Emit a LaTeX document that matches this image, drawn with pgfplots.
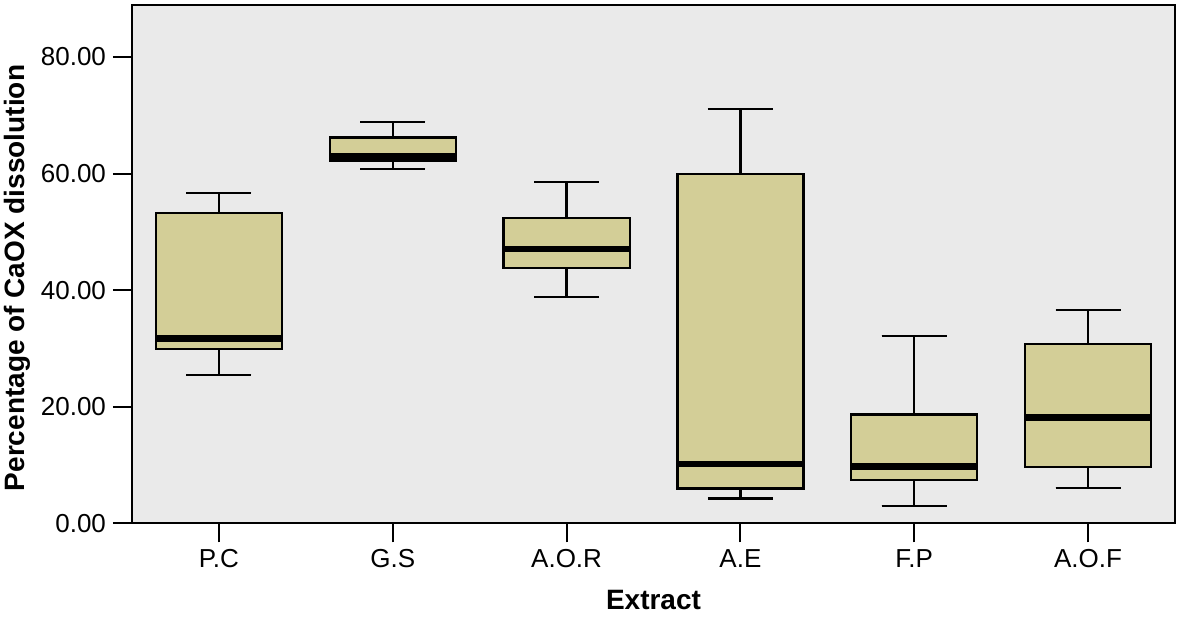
\documentclass[border=0pt]{standalone}
\usepackage{fontspec}
\setmainfont{Liberation Sans}
\usepackage{pgfplots}
\pgfplotsset{compat=1.18}
\usepgfplotslibrary{statistics}
\definecolor{boxfill}{RGB}{211,206,151}
\definecolor{bggray}{RGB}{234,234,234}
\begin{document}
\begin{tikzpicture}
\begin{axis}[
  name=ax,
  scale only axis,
  width=521.5pt, height=259.5pt,
  xmin=0.5, xmax=6.5,
  ymin=0, ymax=89,
  axis background/.style={fill=bggray},
  axis line style={line width=1pt, black},
  xtick={1,2,3,4,5,6},
  xticklabels={P.C,G.S,A.O.R,A.E,F.P,A.O.F},
  ytick={0,20,40,60,80},
  xtick pos=bottom, ytick pos=left,
  tick align=outside,
  major tick length=9.5pt,
  every tick/.style={black, line width=1pt},
  tick label style={font=\fontsize{13}{15}\selectfont},
  /pgf/number format/assume math mode=true,
  yticklabel style={/pgf/number format/.cd, fixed, fixed zerofill, precision=2},
  xlabel={Extract},
  ylabel={Percentage of CaOX dissolution},
  label style={font=\fontsize{14}{16}\selectfont\bfseries},
  xlabel style={yshift=-4.5pt},
  ylabel style={yshift=-1.5pt, xshift=-7pt},
  boxplot/draw direction=y,
  boxplot/box extend=0.725,
  boxplot/whisker extend=0.374,
  boxplot/every median/.style={line width=3.3pt, black},
  boxplot/every whisker/.style={line width=1.1pt, black},
  boxplot/every box/.style={line width=1.1pt, draw=black, fill=boxfill},
]
\addplot[black, line width=1.1pt, fill=boxfill, boxplot prepared={draw position=1,
  lower whisker=25.5, lower quartile=29.9, median=31.7, upper quartile=53.2, upper whisker=56.7}] coordinates {};
\addplot[black, line width=1.1pt, fill=boxfill, boxplot prepared={draw position=2,
  lower whisker=60.8, lower quartile=62.1, median=62.9, upper quartile=66.2, upper whisker=68.9}] coordinates {};
\addplot[black, line width=1.1pt, fill=boxfill, boxplot prepared={draw position=3,
  lower whisker=38.8, lower quartile=43.8, median=47.1, upper quartile=52.4, upper whisker=58.6}] coordinates {};
\addplot[black, line width=1.1pt, fill=boxfill, boxplot prepared={draw position=4,
  lower whisker=4.3, lower quartile=6.0, median=10.2, upper quartile=59.95, upper whisker=71.1}] coordinates {};
\addplot[black, line width=1.1pt, fill=boxfill, boxplot prepared={draw position=5,
  lower whisker=3.05, lower quartile=7.5, median=9.75, upper quartile=18.7, upper whisker=32.2}] coordinates {};
\addplot[black, line width=1.1pt, fill=boxfill, boxplot prepared={draw position=6,
  lower whisker=6.15, lower quartile=9.75, median=18.2, upper quartile=30.8, upper whisker=36.6}] coordinates {};
\end{axis}
\pgfresetboundingbox
\path[use as bounding box] ([xshift=-66pt,yshift=-47.75pt]ax.south west) rectangle ([xshift=3pt,yshift=2.25pt]ax.north east);
\end{tikzpicture}
\end{document}
